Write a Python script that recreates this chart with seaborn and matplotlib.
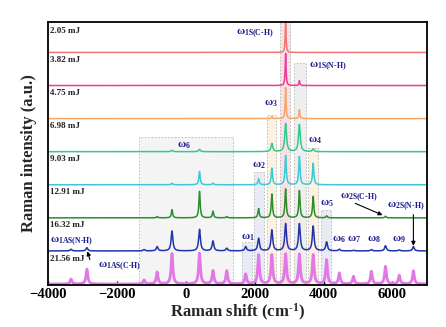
import numpy as np
import pandas as pd
import matplotlib
matplotlib.use("Agg")
import matplotlib.pyplot as plt
import seaborn as sns
from matplotlib.patches import Rectangle

# ---------------- data ----------------
energies = ["21.56 mJ", "16.32 mJ", "12.91 mJ", "9.03 mJ", "6.98 mJ", "4.75 mJ", "3.82 mJ", "2.05 mJ"]  # bottom -> top
line_colors = ["#E277E6", "#2233AA", "#2E8B2E", "#3CC8D8", "#32C98E", "#F2A66A", "#EE3A98", "#F27474"]
peak_pos = [-3330, -2870, -1210, -830, -400, 400, 790, 1190, 1740, 2115, 2500,
            2900, 3300, 3700, 4090, 4460, 4870, 5390, 5800, 6200, 6610]
h_2156 = [0.15, 0.45, 0.12, 0.36, 0.92, 0.93, 0.40, 0.40, 0.30, 0.88, 0.88,
          0.90, 0.90, 0.88, 0.73, 0.33, 0.23, 0.38, 0.53, 0.26, 0.40]
h_1632 = [0.05, 0.10, 0.04, 0.13, 0.60, 0.65, 0.30, 0.08, 0.13, 0.38, 0.63,
          0.82, 0.82, 0.75, 0.27, 0.05, 0.02, 0.04, 0.16, 0.03, 0.13]
h_1291 = [0, 0, 0, 0.04, 0.25, 0.80, 0.20, 0.04, 0, 0.28, 0.72,
          0.87, 0.82, 0.65, 0.06, 0, 0, 0, 0.05, 0, 0]
h_903 = [0, 0, 0, 0, 0.05, 0.40, 0.05, 0, 0, 0.18, 0.50,
         0.88, 0.85, 0.65, 0, 0, 0, 0, 0, 0, 0]
h_698 = [0, 0, 0, 0, 0.04, 0.07, 0, 0, 0, 0, 0.25,
         0.85, 0.82, 0.08, 0, 0, 0, 0, 0, 0, 0]
h_475 = [0, 0, 0, 0, 0, 0, 0, 0, 0, 0, 0.06,
         0.94, 0.27, 0, 0, 0, 0, 0, 0, 0, 0]
h_382 = [0, 0, 0, 0, 0, 0, 0, 0, 0, 0, 0,
         0.97, 0.15, 0, 0, 0, 0, 0, 0, 0, 0]
h_205 = [0, 0, 0, 0, 0, 0, 0, 0, 0, 0, 0,
         0.88, 0, 0, 0, 0, 0, 0, 0, 0, 0]
heights = [h_2156, h_1632, h_1291, h_903, h_698, h_475, h_382, h_205]
peak_hwhm = [30, 30, 22, 22, 30, 15, 15, 15]

band_left = [-1350, 2750, 3130, 2350, 3560, 1970, 3940, 1620]
band_right = [1380, 3040, 3480, 2610, 3850, 2260, 4230, 1910]
band_top = [4.44, 7.95, 6.68, 5.1, 4.1, 3.38, 2.24, 1.27]
band_colors = ["#F4F4F4", "#F6E2E2", "#EEEEEE", "#FDF2E1", "#FDF2E1", "#E8EAF4", "#E8EAF4", "#E8EAF4"]

mode_labels = [
    (r"$\omega_{\text{1S(C-H)}}$", 1450, 7.58, "left"),
    (r"$\omega_{\text{1S(N-H)}}$", 3590, 6.58, "left"),
    (r"$\omega_{\text{3}}$", 2460, 5.47, "center"),
    (r"$\omega_{\text{4}}$", 3740, 4.35, "center"),
    (r"$\omega_{\text{6}}$", -50, 4.2, "center"),
    (r"$\omega_{\text{2}}$", 2115, 3.6, "center"),
    (r"$\omega_{\text{5}}$", 4110, 2.45, "center"),
    (r"$\omega_{\text{2S(C-H)}}$", 4490, 2.63, "left"),
    (r"$\omega_{\text{2S(N-H)}}$", 5850, 2.33, "left"),
    (r"$\omega_{\text{1}}$", 1800, 1.42, "center"),
    (r"$\omega_{\text{6}}$", 4460, 1.36, "center"),
    (r"$\omega_{\text{7}}$", 4870, 1.36, "center"),
    (r"$\omega_{\text{8}}$", 5450, 1.36, "center"),
    (r"$\omega_{\text{9}}$", 6200, 1.36, "center"),
    (r"$\omega_{\text{1AS(N-H)}}$", -3950, 1.3, "left"),
    (r"$\omega_{\text{1AS(C-H)}}$", -2550, 0.54, "left"),
]
x_ticks = [-4000, -2000, 0, 2000, 4000, 6000]

# ---------------- style ----------------
sns.set_theme(style="white")
plt.rcParams["font.family"] = ["Liberation Serif", "DejaVu Serif"]
plt.rcParams["font.weight"] = "bold"
plt.rcParams["mathtext.fontset"] = "custom"
plt.rcParams["mathtext.rm"] = "Liberation Serif:bold"
plt.rcParams["mathtext.it"] = "Liberation Serif:bold"
plt.rcParams["mathtext.bf"] = "Liberation Serif:bold"
plt.rcParams["mathtext.sf"] = "Liberation Serif:bold"
plt.rcParams["axes.unicode_minus"] = True

fig = plt.figure(figsize=(4.46, 3.27), dpi=100)
ax = fig.add_axes([0.1076, 0.1284, 0.8494, 0.8043])

# shaded bands
for l, r, t, c in zip(band_left, band_right, band_top, band_colors):
    ax.add_patch(Rectangle((l, -0.05), r - l, t + 0.05, facecolor=c, edgecolor="#B5B5B5",
                           linestyle=(0, (2, 2)), linewidth=0.6, zorder=0.5))

xs = np.linspace(-4000, 7000, 5501)
for i, (hs, col, g) in enumerate(zip(heights, line_colors, peak_hwhm)):
    y = np.zeros_like(xs)
    for p, h in zip(peak_pos, hs):
        if h > 0:
            y += h * g**2 / ((xs - p) ** 2 + g**2)
    df = pd.DataFrame({"shift": xs, "intensity": y + i})
    sns.lineplot(data=df, x="shift", y="intensity", color=col, lw=1.1 if i else 2.0,
                 estimator=None, sort=False, ax=ax, zorder=2)

# energy labels
for i, e in enumerate(energies):
    yy = i + (0.65 if i == len(energies) - 1 else 0.77)
    ax.text(-3930, yy, e, fontsize=6.5, fontweight="bold", color="#222222", va="center", ha="left", zorder=3)

for txt, x, y, ha in mode_labels:
    ax.text(x, y, txt, fontsize=8, color="#1C1C8E", ha=ha, va="center", zorder=3)

arrow = dict(arrowstyle="-|>", color="black", lw=0.8, mutation_scale=6)
ax.annotate("", xy=(5790, 2.05), xytext=(4850, 2.47), arrowprops=arrow, zorder=3)
ax.annotate("", xy=(6610, 1.07), xytext=(6610, 2.18), arrowprops=arrow, zorder=3)
ax.annotate("", xy=(-2880, 1.07), xytext=(-2760, 0.66), arrowprops=arrow, zorder=3)

ax.set_xlim(-4000, 7000)
ax.set_ylim(-0.03, 7.92)
ax.set_xticks(x_ticks)
ax.set_xticklabels([f"{t:d}".replace("-", "\u2212") for t in x_ticks], fontsize=10.5, fontweight="bold")
ax.set_yticks([])
ax.tick_params(axis="x", direction="in", length=3, width=1, bottom=True, pad=2, colors="black")
for s in ax.spines.values():
    s.set_color("black")
    s.set_linewidth(1.3)
ax.set_xlabel("Raman shift (cm$^{\\text{-1}}$)", fontsize=12, fontweight="bold", labelpad=1)
ax.set_ylabel("Raman intensity (a.u.)", fontsize=12, fontweight="bold", labelpad=8)

fig.savefig("out.png", dpi=100)
